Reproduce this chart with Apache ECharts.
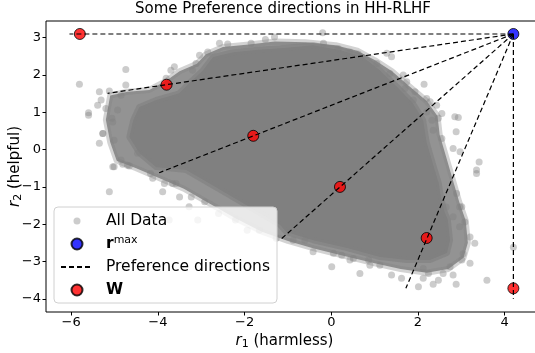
<!DOCTYPE html>
<html>
<head>
<meta charset="utf-8">
<script src="https://cdn.jsdelivr.net/npm/echarts@6/dist/echarts.min.js"></script>
<style>
    html, body { margin: 0; padding: 0; background: #fff; }
    #main-chart { width: 535px; height: 353px; }
</style>
</head>
<body>
<div id="main-chart"></div>
<script>
// r^max, every preference direction starts here
const rMax = [4.2, 3.1];

// W points, one on each direction
const wX = [-5.8, -3.8, -1.8, 0.2, 2.2, 4.2];
const wY = [3.1, 1.74, 0.37, -1.0, -2.37, -3.72];

// far ends of the dashed direction lines
const dirEndX = [-6.04, -5.16, -3.97, -1.18, 1.72, 4.2];
const dirEndY = [3.1, 1.51, -0.62, -2.42, -3.72, -4.0];

// outline of the solid (fully overlapped) part of the data cloud
const cloudOutline = [
    [-4.43, 1.14], [-4.04, 1.33], [-3.51, 1.51], [-3.28, 1.78], [-2.96, 2.13],
    [-2.73, 2.48], [-2.27, 2.61], [-1.7, 2.68], [-1.18, 2.72], [-0.42, 2.8],
    [0.2, 2.67], [0.73, 2.48], [1.12, 2.13], [1.52, 1.68], [1.88, 1.25],
    [2.12, 0.79], [2.2, 0.2], [2.35, -0.4], [2.48, -0.9], [2.52, -1.2],
    [2.6, -1.62], [2.69, -1.89], [2.74, -2.43], [2.67, -2.77], [2.28, -2.96],
    [1.74, -2.96], [1.12, -2.88], [0.36, -2.64], [-0.42, -2.43], [-1.04, -2.21],
    [-1.18, -2.02], [-1.8, -1.6], [-2.43, -1.17], [-2.9, -0.85], [-3.35, -0.55],
    [-4.04, -0.47], [-4.43, -0.09], [-4.66, 0.34], [-4.57, 0.79]
];

// outline of the half-covered band around the solid part
const cloudBand = [
    [-5.1, 1.45], [-4.7, 1.55], [-4.2, 1.6], [-3.8, 1.85], [-3.5, 2.1],
    [-3.1, 2.3], [-2.9, 2.55], [-2.5, 2.75], [-1.9, 2.82], [-1.3, 2.9],
    [-0.6, 2.88], [0.1, 2.8], [0.6, 2.65], [1.0, 2.4], [1.4, 2.1],
    [1.8, 1.7], [2.2, 1.3], [2.45, 0.9], [2.5, 0.4], [2.65, -0.2],
    [2.8, -0.8], [2.95, -1.4], [3.1, -1.9], [3.15, -2.5], [3.05, -2.9],
    [2.7, -3.2], [2.2, -3.3], [1.6, -3.2], [1.0, -3.05], [0.3, -2.85],
    [-0.4, -2.65], [-1.0, -2.45], [-1.6, -2.2], [-2.2, -1.85], [-2.8, -1.45],
    [-3.4, -1.05], [-4.0, -0.75], [-4.5, -0.5], [-4.95, -0.3], [-5.1, 0.2],
    [-5.2, 0.8]
];

// loose points around the cloud
const strayPoints = [
    [-5.81, 1.75], [-5.6, 0.99], [-5.6, 0.92], [-4.74, 2.15], [-5.35, 1.55],
    [-5.12, 1.57], [-5.39, 1.19], [-5.2, 1.1], [-5.31, 1.33], [-5.06, 0.84],
    [-5.27, 0.43], [-5.01, 0.25], [-4.93, 1.06], [-4.85, 1.46], [-4.74, 1.73],
    [-5.35, 0.17], [-4.85, -0.28], [-5.01, -0.46], [-4.7, -0.42], [-4.47, -0.1],
    [-3.7, 2.13], [-3.62, 2.22], [-3.81, 1.91], [-3.2, 2.13], [-3.12, 2.31],
    [-3.04, 2.53], [-2.85, 2.62], [-2.58, 2.85], [-2.39, 2.83], [-1.85, 2.85],
    [-1.52, 2.95], [-1.31, 3.02], [-0.2, 3.13], [-0.18, 2.85], [0.16, 2.71],
    [0.43, 2.62], [0.62, 2.56], [1.05, 2.31], [1.28, 2.58], [1.39, 2.49],
    [1.35, 2.04], [1.66, 2.0], [1.74, 1.82], [1.7, 1.64], [1.93, 1.55],
    [2.14, 1.75], [2.2, 1.37], [2.28, 1.28], [2.43, 1.19], [2.55, 0.97],
    [2.47, 0.84], [2.85, 0.88], [2.93, 0.86], [2.88, 0.48], [3.41, -0.33],
    [2.81, 0.03], [2.97, -0.06], [2.55, 0.3], [2.35, 0.52], [2.32, 0.79],
    [2.2, 1.01], [1.89, 1.33], [3.35, -0.55], [3.35, -0.64], [3.59, -3.5],
    [4.2, -2.62], [2.89, -1.18], [2.96, -1.54], [2.96, -2.07], [3.2, -3.05],
    [3.2, -2.34], [3.31, -2.51], [3.04, -2.79], [2.65, -1.54], [2.81, -1.8],
    [3.08, -1.94], [3.01, -1.53], [3.01, -2.96], [2.74, -3.14], [2.81, -3.36],
    [2.47, -3.5], [2.58, -3.32], [2.35, -3.61], [2.88, -3.61], [2.01, -3.68],
    [1.62, -3.45], [1.39, -3.36], [0.66, -3.32], [0.01, -3.14], [-0.42, -2.74],
    [-0.88, -2.43], [-0.61, -2.43], [0.43, -2.96], [0.51, -2.92], [0.89, -3.1],
    [0.86, -2.96], [1.12, -3.1], [0.05, -2.78], [0.24, -2.83], [2.12, -3.19],
    [2.24, -3.32], [2.12, -3.45], [-5.12, -1.13], [-3.89, -1.13], [-5.04, -0.46],
    [-4.81, -0.39], [-4.66, -0.44], [-4.12, -0.77], [-3.85, -0.91], [-3.66, -0.91],
    [-3.28, -1.53], [-3.5, -1.27], [-3.08, -1.89], [-3.74, -1.89], [-5.04, 0.74],
    [-5.27, 0.43], [-4.17, -0.64], [-3.58, -0.91], [-2.92, -1.4], [-3.23, -1.27],
    [-2.6, -1.71], [-2.21, -1.89], [-1.94, -2.16], [-1.66, -2.16], [-1.27, -2.38]
];

const xTicks = [-6, -4, -2, 0, 2, 4];
const yTicks = [-4, -3, -2, -1, 0, 1, 2, 3];

const fontFamily = '"DejaVu Sans", sans-serif';

function tickText(v) {
    return v < 0 ? '\u2212' + Math.abs(v) : String(v);
}

// polygon drawn through the axes, from an outline list
function areaSeries(outline, fill, edge, z) {
    return {
        type: 'custom',
        name: 'All Data',
        data: outline,
        encode: { x: 0, y: 1 },
        renderItem: function (params, api) {
            if (params.dataIndex !== 0) return;
            const pts = outline.map(function (p) { return api.coord(p); });
            return {
                type: 'polygon',
                shape: { points: pts },
                style: { fill: fill, stroke: edge, lineWidth: 6, lineJoin: 'round' }
            };
        },
        z: z,
        silent: true
    };
}

const chartDom = document.getElementById('main-chart');
const myChart = echarts.init(chartDom);

const directionSeries = dirEndX.map(function (x, i) {
    return {
        type: 'line',
        name: 'Preference directions',
        data: [rMax, [x, dirEndY[i]]],
        symbol: 'none',
        itemStyle: { color: '#000' },
        lineStyle: { color: '#000', width: 1.2, type: [5, 3] },
        z: 5,
        silent: true
    };
});

const option = {
    animation: false,
    title: {
        text: 'Some Preference directions in HH-RLHF',
        left: 135,
        top: 2,
        padding: 0,
        textStyle: { fontFamily: fontFamily, fontSize: 15, fontWeight: 'normal', color: '#000' }
    },
    grid: {
        left: 46,
        right: -2,
        top: 21,
        bottom: 41,
        outerBoundsMode: 'none',
        containLabel: false,
        show: true,
        borderColor: '#000',
        borderWidth: 1
    },
    legend: {
        orient: 'vertical',
        left: 54,
        top: 207,
        z: 10,
        padding: [4, 7, 3, 6],
        itemGap: 3,
        itemWidth: 32,
        itemHeight: 11,
        backgroundColor: 'rgba(255,255,255,0.8)',
        borderColor: '#d0d0d0',
        borderWidth: 1,
        borderRadius: 4,
        selectedMode: false,
        data: [
            { name: 'All Data', icon: 'path://M0,0M11,11M5.5,2a3.5,3.5 0 1,1 0,7a3.5,3.5 0 1,1 0,-7z' },
            { name: 'rmax' },
            { name: 'Preference directions', itemStyle: { opacity: 0 } },
            { name: 'W' }
        ],
        formatter: function (name) {
            if (name === 'rmax') return '{b|r}{sup|max}';
            if (name === 'W') return '{b|W}';
            return name;
        },
        textStyle: {
            fontFamily: fontFamily,
            fontSize: 15.5,
            color: '#000',
            lineHeight: 20,
            padding: [0, 0, 0, 8],
            rich: {
                b: { fontFamily: fontFamily, fontSize: 15.5, fontWeight: 'bold', color: '#000' },
                sup: { fontFamily: fontFamily, fontSize: 11, color: '#000', padding: [0, 0, 8, 0] }
            }
        }
    },
    xAxis: {
        type: 'value',
        min: -6.581,
        max: 4.745,
        splitLine: { show: false },
        axisLine: { show: false, onZero: false },
        axisTick: { show: true, length: 3.5, customValues: xTicks, lineStyle: { color: '#000' } },
        axisLabel: {
            customValues: xTicks,
            margin: 4,
            fontFamily: fontFamily,
            fontSize: 13,
            color: '#000',
            formatter: tickText
        },
        name: '{i|r}{sub|1} (harmless)',
        nameLocation: 'middle',
        nameGap: 20,
        nameTextStyle: {
            fontFamily: fontFamily,
            fontSize: 15,
            color: '#000',
            padding: [0, 14, 0, 0],
            rich: {
                i: { fontFamily: fontFamily, fontSize: 15, fontStyle: 'italic', color: '#000' },
                sub: { fontFamily: fontFamily, fontSize: 11, color: '#000', padding: [6, 0, 0, 0] }
            }
        }
    },
    yAxis: {
        type: 'value',
        min: -4.354,
        max: 3.448,
        splitLine: { show: false },
        axisLine: { show: false, onZero: false },
        axisTick: { show: true, length: 3.5, customValues: yTicks, lineStyle: { color: '#000' } },
        axisLabel: {
            customValues: yTicks,
            margin: 5,
            fontFamily: fontFamily,
            fontSize: 13,
            color: '#000',
            formatter: tickText
        },
        name: '{i|r}{sub|2} (helpful)',
        nameLocation: 'middle',
        nameRotate: 90,
        nameGap: 22,
        nameMoveOverlap: false,
        nameTextStyle: {
            fontFamily: fontFamily,
            fontSize: 15,
            color: '#000',
            rich: {
                i: { fontFamily: fontFamily, fontSize: 15, fontStyle: 'italic', color: '#000' },
                sub: { fontFamily: fontFamily, fontSize: 11, color: '#000', padding: [6, 0, 0, 0] }
            }
        }
    },
    series: [
        {
            type: 'scatter',
            name: 'All Data',
            data: strayPoints,
            symbolSize: 7,
            itemStyle: { color: 'rgba(128,128,128,0.5)' },
            z: 2,
            silent: true
        },
        areaSeries(cloudBand, 'rgba(128,128,128,0.85)', 'rgba(128,128,128,0.35)', 1),
        areaSeries(cloudOutline, '#808080', 'rgba(128,128,128,0.6)', 1),
        {
            type: 'scatter',
            name: 'rmax',
            data: [rMax],
            symbolSize: 11,
            itemStyle: { color: '#0000ff', borderColor: '#000', borderWidth: 1 },
            z: 3
        },
        {
            type: 'scatter',
            name: 'W',
            data: wX.map(function (x, i) { return [x, wY[i]]; }),
            symbolSize: 11,
            itemStyle: { color: '#ff0000', borderColor: '#000', borderWidth: 1 },
            z: 3
        }
    ].concat(directionSeries)
};

myChart.setOption(option);

window.addEventListener('resize', function () {
    myChart.resize();
});
</script>
</body>
</html>
